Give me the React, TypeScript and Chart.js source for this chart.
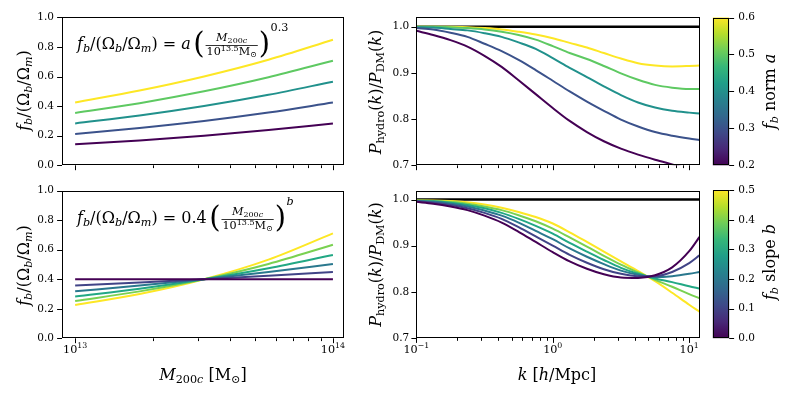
import { useEffect, useRef } from 'react';
import { Chart, registerables } from 'chart.js';

Chart.register(...registerables);

const FONT = '"DejaVu Serif", serif';
const PAGE_W = 789;
const PAGE_H = 395;

// ---------------- data ----------------
// halo mass M200c [Msun]
const massHalo = [1e13, 1.778e13, 3.162e13, 5.623e13, 1e14];
// fb/(Ob/Om) for normalisation a = 0.2 .. 0.6 (slope 0.3)
const normValues = [0.2, 0.3, 0.4, 0.5, 0.6];
const fbNorm02 = [0.142, 0.168, 0.2, 0.238, 0.283];
const fbNorm03 = [0.212, 0.252, 0.3, 0.357, 0.424];
const fbNorm04 = [0.283, 0.336, 0.4, 0.476, 0.565];
const fbNorm05 = [0.354, 0.42, 0.5, 0.595, 0.707];
const fbNorm06 = [0.425, 0.505, 0.6, 0.713, 0.848];
// fb/(Ob/Om) for slope b = 0 .. 0.5 (norm 0.4)
const slopeValues = [0, 0.1, 0.2, 0.3, 0.4, 0.5];
const fbSlope00 = [0.4, 0.4, 0.4, 0.4, 0.4];
const fbSlope01 = [0.357, 0.378, 0.4, 0.424, 0.449];
const fbSlope02 = [0.318, 0.357, 0.4, 0.449, 0.504];
const fbSlope03 = [0.283, 0.336, 0.4, 0.475, 0.565];
const fbSlope04 = [0.252, 0.318, 0.4, 0.504, 0.634];
const fbSlope05 = [0.225, 0.3, 0.4, 0.533, 0.711];

// wavenumber k [h/Mpc]
const kGrid = [0.1, 0.133, 0.178, 0.237, 0.316, 0.422, 0.562, 0.75, 1.0, 1.33, 1.78, 2.37, 3.16, 4.22, 5.62, 7.5, 10.0, 11.9];
// P_hydro/P_DM, norm a series
const ratioNorm02 = [0.991, 0.982, 0.971, 0.957, 0.937, 0.913, 0.884, 0.854, 0.824, 0.796, 0.772, 0.752, 0.736, 0.723, 0.712, 0.702, 0.692, 0.687];
const ratioNorm03 = [0.997, 0.994, 0.987, 0.978, 0.963, 0.947, 0.928, 0.906, 0.883, 0.860, 0.838, 0.818, 0.799, 0.784, 0.772, 0.764, 0.758, 0.755];
const ratioNorm04 = [0.999, 0.998, 0.995, 0.992, 0.986, 0.978, 0.966, 0.952, 0.932, 0.911, 0.891, 0.871, 0.852, 0.836, 0.825, 0.818, 0.814, 0.812];
const ratioNorm05 = [1.0, 1.0, 0.999, 0.997, 0.994, 0.989, 0.982, 0.972, 0.958, 0.943, 0.930, 0.915, 0.899, 0.885, 0.874, 0.868, 0.865, 0.865];
const ratioNorm06 = [1.0, 1.0, 1.0, 0.999, 0.997, 0.994, 0.989, 0.983, 0.975, 0.965, 0.955, 0.943, 0.931, 0.921, 0.916, 0.914, 0.915, 0.916];
// P_hydro/P_DM, slope b series
const ratioSlope00 = [0.995, 0.991, 0.985, 0.977, 0.965, 0.950, 0.930, 0.908, 0.886, 0.866, 0.850, 0.838, 0.831, 0.830, 0.836, 0.853, 0.888, 0.919];
const ratioSlope01 = [0.996, 0.993, 0.988, 0.981, 0.971, 0.958, 0.940, 0.920, 0.900, 0.880, 0.863, 0.849, 0.839, 0.834, 0.834, 0.843, 0.862, 0.879];
const ratioSlope02 = [0.997, 0.995, 0.991, 0.985, 0.976, 0.965, 0.950, 0.932, 0.914, 0.894, 0.876, 0.860, 0.846, 0.837, 0.832, 0.834, 0.839, 0.843];
const ratioSlope03 = [0.997, 0.996, 0.993, 0.988, 0.981, 0.971, 0.958, 0.943, 0.926, 0.906, 0.887, 0.869, 0.852, 0.839, 0.829, 0.821, 0.812, 0.807];
const ratioSlope04 = [0.998, 0.997, 0.995, 0.991, 0.985, 0.977, 0.966, 0.953, 0.937, 0.918, 0.898, 0.878, 0.859, 0.842, 0.826, 0.811, 0.795, 0.786];
const ratioSlope05 = [0.998, 0.998, 0.997, 0.994, 0.989, 0.982, 0.973, 0.962, 0.948, 0.929, 0.908, 0.887, 0.866, 0.845, 0.823, 0.798, 0.772, 0.757];
// reference line at unity
const unityK = [0.1, 11.9];
const unityRatio = [1, 1];

// ---------------- ticks ----------------
const fbTicks = [0, 0.2, 0.4, 0.6, 0.8, 1.0];
const ratioTicks = [0.7, 0.8, 0.9, 1.0];
const normBarTicks = [0.2, 0.3, 0.4, 0.5, 0.6];
const slopeBarTicks = [0, 0.1, 0.2, 0.3, 0.4, 0.5];
const massMajorTicks = [1e13, 1e14];
const massMinorTicks = [2e13, 3e13, 4e13, 5e13, 6e13, 7e13, 8e13, 9e13];
const massTickExponents = ['13', '14'];
const kMajorTicks = [0.1, 1, 10];
const kMinorTicks = [0.2, 0.3, 0.4, 0.5, 0.6, 0.7, 0.8, 0.9, 2, 3, 4, 5, 6, 7, 8, 9];
const kTickExponents = ['−1', '0', '1'];

// ---------------- styles ----------------
const viridis5 = ['#440154', '#3b528b', '#21918c', '#5ec962', '#fde725'];
const viridis6 = ['#440154', '#414487', '#2a788e', '#22a884', '#7ad151', '#fde725'];
const viridisStops = ['#440154', '#482878', '#3e4989', '#31688e', '#26828e', '#1f9e89', '#35b779', '#6ece58', '#b5de2b', '#fde725'];

type Area = { l: number; t: number; r: number; b: number };
const AREA: Record<string, Area> = {
  tl: { l: 62, t: 17.3, r: 343.5, b: 165.3 },
  bl: { l: 62, t: 190.7, r: 343.5, b: 338.3 },
  tr: { l: 416.3, t: 17.3, r: 699.5, b: 165.3 },
  br: { l: 416.3, t: 190.5, r: 699.5, b: 338 },
  cbt: { l: 712.8, t: 17.5, r: 729.2, b: 165.3 },
  cbb: { l: 712.8, t: 190.3, r: 729.2, b: 338.2 },
};

// ---------------- rich text ----------------
type Seg = { t: string; i?: boolean; s?: number; dy?: number };
const SUB = { s: 0.7, dy: 0.22 };
const segFont = (size: number, g: Seg) => `${g.i ? 'italic ' : ''}${(size * (g.s ?? 1)).toFixed(2)}px ${FONT}`;
function measureSegs(ctx: CanvasRenderingContext2D, segs: Seg[], size: number) {
  let w = 0;
  for (const g of segs) { ctx.font = segFont(size, g); w += ctx.measureText(g.t).width; }
  return w;
}
function drawSegs(ctx: CanvasRenderingContext2D, segs: Seg[], x: number, y: number, size: number) {
  let cx = x;
  for (const g of segs) {
    ctx.font = segFont(size, g);
    ctx.fillText(g.t, cx, y + (g.dy ?? 0) * size);
    cx += ctx.measureText(g.t).width;
  }
  return cx;
}
function drawLabel(ctx: CanvasRenderingContext2D, segs: Seg[], cx: number, cy: number, size: number, rotate: boolean) {
  ctx.save();
  ctx.translate(cx, cy);
  if (rotate) ctx.rotate(-Math.PI / 2);
  ctx.fillStyle = '#000';
  ctx.textAlign = 'left';
  ctx.textBaseline = 'alphabetic';
  const w = measureSegs(ctx, segs, size);
  drawSegs(ctx, segs, -w / 2, size * 0.3, size);
  ctx.restore();
}

const FB_TEXT: Seg[] = [
  { t: 'f', i: true }, { t: 'b', i: true, ...SUB }, { t: '/(Ω' }, { t: 'b', i: true, ...SUB },
  { t: '/Ω' }, { t: 'm', i: true, ...SUB }, { t: ')' },
];
const RATIO_TEXT: Seg[] = [
  { t: 'P', i: true }, { t: 'hydro', ...SUB }, { t: '(' }, { t: 'k', i: true }, { t: ')/' },
  { t: 'P', i: true }, { t: 'DM', ...SUB }, { t: '(' }, { t: 'k', i: true }, { t: ')' },
];
const MASS_TEXT: Seg[] = [
  { t: 'M', i: true }, { t: '200', ...SUB }, { t: 'c', i: true, ...SUB }, { t: ' [M' }, { t: '⊙', ...SUB }, { t: ']' },
];
const K_TEXT: Seg[] = [{ t: 'k', i: true }, { t: ' [' }, { t: 'h', i: true }, { t: '/Mpc]' }];
const NORM_TEXT: Seg[] = [{ t: 'f', i: true }, { t: 'b', i: true, ...SUB }, { t: ' norm ' }, { t: 'a', i: true }];
const SLOPE_TEXT: Seg[] = [{ t: 'f', i: true }, { t: 'b', i: true, ...SUB }, { t: ' slope ' }, { t: 'b', i: true }];

function drawFormula(ctx: CanvasRenderingContext2D, x: number, y: number, coeff: Seg[], expo: Seg[]) {
  const S = 16;
  ctx.save();
  ctx.fillStyle = '#000';
  ctx.textAlign = 'left';
  ctx.textBaseline = 'alphabetic';
  let cx = drawSegs(ctx, [...FB_TEXT, { t: ' = ' }, ...coeff], x, y, S);
  cx += 2.5;
  const PS = 29;
  ctx.font = `${PS}px ${FONT}`;
  ctx.fillText('(', cx, y + 4.5);
  cx += ctx.measureText('(').width + 1;
  const num: Seg[] = [{ t: 'M', i: true, s: 0.7 }, { t: '200', s: 0.5, dy: 0.12 }, { t: 'c', i: true, s: 0.5, dy: 0.12 }];
  const den: Seg[] = [{ t: '10', s: 0.7 }, { t: '13.5', s: 0.5, dy: -0.28 }, { t: 'M', s: 0.7 }, { t: '⊙', s: 0.5, dy: 0.12 }];
  const nw = measureSegs(ctx, num, S);
  const dw = measureSegs(ctx, den, S);
  const fw = Math.max(nw, dw) + 2;
  drawSegs(ctx, num, cx + (fw - nw) / 2, y - 7.5, S);
  drawSegs(ctx, den, cx + (fw - dw) / 2, y + 6.5, S);
  ctx.fillRect(cx, y - 3.6, fw, 0.8);
  cx += fw + 1;
  ctx.font = `${PS}px ${FONT}`;
  ctx.fillText(')', cx, y + 4.5);
  cx += ctx.measureText(')').width + 0.5;
  drawSegs(ctx, expo, cx, y - 17.5, S);
  ctx.restore();
}

// power-of-ten tick labels ("10" with a raised exponent) under a log axis
function drawPowerLabels(ctx: CanvasRenderingContext2D, chart: any, values: number[], exps: string[], yBase: number) {
  const s = chart.scales.x;
  const size = 11.2;
  ctx.save();
  ctx.fillStyle = '#000';
  ctx.textAlign = 'left';
  ctx.textBaseline = 'alphabetic';
  values.forEach((v, i) => {
    const segs: Seg[] = [{ t: '10' }, { t: exps[i], s: 0.7, dy: -0.42 }];
    const w = measureSegs(ctx, segs, size);
    drawSegs(ctx, segs, s.getPixelForValue(v) - w / 2, yBase, size);
  });
  ctx.restore();
}

// ---------------- chart helpers ----------------
function padFor(a: Area, yW: number, xH: number, yRight = false) {
  return {
    left: yRight ? a.l : a.l - yW,
    right: yRight ? PAGE_W - a.r - yW : PAGE_W - a.r,
    top: a.t,
    bottom: PAGE_H - a.b - xH,
  };
}

function makeAxis(o: {
  type: 'linear' | 'logarithmic';
  position: 'left' | 'right' | 'bottom';
  min: number;
  max: number;
  major: number[];
  minor?: number[];
  labels?: (v: number) => string;
  size: number;
  pad: number;
}) {
  const horizontal = o.position === 'bottom';
  return {
    type: o.type,
    position: o.position,
    min: o.min,
    max: o.max,
    display: true,
    bounds: 'data',
    grid: { display: false, drawTicks: false },
    border: { display: false },
    ticks: {
      autoSkip: false,
      maxRotation: 0,
      minRotation: 0,
      padding: o.pad,
      color: '#000',
      font: { family: FONT, size: 10.5 },
      callback: (v: number | string) => (o.labels ? o.labels(Number(v)) : ''),
    },
    afterBuildTicks: (s: any) => {
      s.ticks = [
        ...o.major.map((v) => ({ value: v })),
        ...(o.minor ?? []).map((v) => ({ value: v, isMinor: true })),
      ].sort((a, b) => a.value - b.value);
    },
    afterFit: (s: any) => {
      if (horizontal) s.height = o.size;
      else s.width = o.size;
    },
  };
}

function decoPlugin(extra?: (ctx: CanvasRenderingContext2D, chart: any) => void, gradient = false) {
  return {
    id: 'deco',
    beforeDatasetsDraw(chart: any) {
      if (!gradient) return;
      const { ctx, chartArea: a } = chart;
      const g = ctx.createLinearGradient(0, a.bottom, 0, a.top);
      viridisStops.forEach((c, i) => g.addColorStop(i / (viridisStops.length - 1), c));
      ctx.save();
      ctx.fillStyle = g;
      ctx.fillRect(a.left, a.top, a.right - a.left, a.bottom - a.top);
      ctx.restore();
    },
    afterDraw(chart: any) {
      const { ctx, chartArea: a } = chart;
      ctx.save();
      ctx.strokeStyle = '#000';
      ctx.lineWidth = 1;
      for (const s of Object.values(chart.scales) as any[]) {
        if (!s.options.display) continue;
        for (const t of s.ticks) {
          const len = t.isMinor ? 2.8 : 4.9;
          const p = Math.round(s.getPixelForValue(t.value)) + 0.5;
          ctx.beginPath();
          if (s.isHorizontal()) {
            ctx.moveTo(p, a.bottom);
            ctx.lineTo(p, a.bottom + len);
          } else if (s.position === 'right') {
            ctx.moveTo(a.right, p);
            ctx.lineTo(a.right + len, p);
          } else {
            ctx.moveTo(a.left - len, p);
            ctx.lineTo(a.left, p);
          }
          ctx.stroke();
        }
      }
      const l = Math.round(a.left) + 0.5;
      const t = Math.round(a.top) + 0.5;
      const r = Math.round(a.right) - 0.5;
      const b = Math.round(a.bottom) - 0.5;
      ctx.strokeRect(l, t, r - l, b - t);
      if (extra) extra(ctx, chart);
      ctx.restore();
    },
  };
}

const toPts = (xs: number[], ys: number[]) => xs.map((x, i) => ({ x, y: ys[i] }));

function line(xs: number[], ys: number[], color: string, width = 2) {
  return {
    data: toPts(xs, ys),
    borderColor: color,
    backgroundColor: color,
    borderWidth: width,
    pointRadius: 0,
    cubicInterpolationMode: 'monotone',
    fill: false,
  };
}

function lineChart(area: Area, datasets: any[], x: any, y: any, yW: number, xH: number, extra?: (ctx: CanvasRenderingContext2D, chart: any) => void) {
  return {
    type: 'line',
    data: { datasets },
    options: {
      responsive: false,
      animation: false,
      events: [],
      layout: { padding: padFor(area, yW, xH) },
      plugins: { legend: { display: false }, tooltip: { enabled: false } },
      scales: { x, y },
    },
    plugins: [decoPlugin(extra)],
  };
}

function colorbar(area: Area, min: number, max: number, ticks: number[], label: Seg[], labelY: number) {
  return {
    type: 'scatter',
    data: { datasets: [] },
    options: {
      responsive: false,
      animation: false,
      events: [],
      layout: { padding: padFor(area, 30, 0, true) },
      plugins: { legend: { display: false }, tooltip: { enabled: false } },
      scales: {
        x: { type: 'linear', display: false, min: 0, max: 1 },
        y: makeAxis({ type: 'linear', position: 'right', min, max, major: ticks, labels: (v) => v.toFixed(1), size: 30, pad: 9 }),
      },
    },
    plugins: [decoPlugin((ctx) => drawLabel(ctx, label, 770, labelY, 16, true), true)],
  };
}

const MASS_MIN = Math.pow(10, 12.949);
const MASS_MAX = Math.pow(10, 14.041);

function buildConfigs() {
  const normFb = [fbNorm02, fbNorm03, fbNorm04, fbNorm05, fbNorm06];
  const slopeFb = [fbSlope00, fbSlope01, fbSlope02, fbSlope03, fbSlope04, fbSlope05];
  const normRatio = [ratioNorm02, ratioNorm03, ratioNorm04, ratioNorm05, ratioNorm06];
  const slopeRatio = [ratioSlope00, ratioSlope01, ratioSlope02, ratioSlope03, ratioSlope04, ratioSlope05];

  const tl = lineChart(
    AREA.tl,
    normValues.map((_, i) => line(massHalo, normFb[i], viridis5[i])),
    makeAxis({ type: 'logarithmic', position: 'bottom', min: MASS_MIN, max: MASS_MAX, major: massMajorTicks, minor: massMinorTicks, size: 10, pad: 6 }),
    makeAxis({ type: 'linear', position: 'left', min: 0, max: 1, major: fbTicks, labels: (v) => v.toFixed(1), size: 62, pad: 8 }),
    62, 10,
    (ctx) => {
      drawLabel(ctx, FB_TEXT, 24, 90.5, 16, true);
      drawFormula(ctx, 77, 48.7, [{ t: 'a', i: true }], [{ t: '0.3', s: 0.7 }]);
    },
  );
  const bl = lineChart(
    AREA.bl,
    slopeValues.map((_, i) => line(massHalo, slopeFb[i], viridis6[i])),
    makeAxis({ type: 'logarithmic', position: 'bottom', min: MASS_MIN, max: MASS_MAX, major: massMajorTicks, minor: massMinorTicks, size: 30, pad: 6 }),
    makeAxis({ type: 'linear', position: 'left', min: 0, max: 1, major: fbTicks, labels: (v) => v.toFixed(1), size: 62, pad: 8 }),
    62, 30,
    (ctx, chart) => {
      drawLabel(ctx, FB_TEXT, 24, 265.5, 16, true);
      drawLabel(ctx, MASS_TEXT, 203, 375, 16, false);
      drawFormula(ctx, 77, 222.7, [{ t: '0.4' }], [{ t: 'b', i: true, s: 0.7 }]);
      drawPowerLabels(ctx, chart, massMajorTicks, massTickExponents, 353);
    },
  );
  const tr = lineChart(
    AREA.tr,
    [
      ...normValues.map((_, i) => line(kGrid, normRatio[i], viridis5[i])),
      line(unityK, unityRatio, '#000', 2.4),
    ],
    makeAxis({ type: 'logarithmic', position: 'bottom', min: 0.1, max: 11.9, major: kMajorTicks, minor: kMinorTicks, size: 10, pad: 6 }),
    makeAxis({ type: 'linear', position: 'left', min: 0.7, max: 1.0203, major: ratioTicks, labels: (v) => v.toFixed(1), size: 40, pad: 7 }),
    40, 10,
    (ctx) => drawLabel(ctx, RATIO_TEXT, 376, 92, 16, true),
  );
  const br = lineChart(
    AREA.br,
    [
      ...slopeValues.map((_, i) => line(kGrid, slopeRatio[i], viridis6[i])),
      line(unityK, unityRatio, '#000', 2.4),
    ],
    makeAxis({ type: 'logarithmic', position: 'bottom', min: 0.1, max: 11.9, major: kMajorTicks, minor: kMinorTicks, size: 30, pad: 6 }),
    makeAxis({ type: 'linear', position: 'left', min: 0.7, max: 1.0195, major: ratioTicks, labels: (v) => v.toFixed(1), size: 40, pad: 7 }),
    40, 30,
    (ctx, chart) => {
      drawLabel(ctx, RATIO_TEXT, 376, 264.5, 16, true);
      drawLabel(ctx, K_TEXT, 557, 375, 16, false);
      drawPowerLabels(ctx, chart, kMajorTicks, kTickExponents, 353);
    },
  );
  const cbt = colorbar(AREA.cbt, 0.2, 0.6, normBarTicks, NORM_TEXT, 91.5);
  const cbb = colorbar(AREA.cbb, 0, 0.5, slopeBarTicks, SLOPE_TEXT, 262);
  return [tl, bl, tr, br, cbt, cbb];
}

export default function App() {
  const boxRef = useRef<HTMLDivElement>(null);
  useEffect(() => {
    const box = boxRef.current;
    if (!box) return;
    const canvases = Array.from(box.querySelectorAll('canvas'));
    const charts = buildConfigs().map((cfg, i) => new Chart(canvases[i], cfg as any));
    return () => charts.forEach((c) => c.destroy());
  }, []);
  return (
    <div
      ref={boxRef}
      style={{ position: 'fixed', left: 0, top: 0, width: PAGE_W, height: PAGE_H, background: '#fff', overflow: 'hidden' }}
    >
      {[0, 1, 2, 3, 4, 5].map((i) => (
        <canvas
          key={i}
          width={PAGE_W}
          height={PAGE_H}
          style={{ position: 'absolute', left: 0, top: 0, width: PAGE_W, height: PAGE_H }}
        />
      ))}
    </div>
  );
}
